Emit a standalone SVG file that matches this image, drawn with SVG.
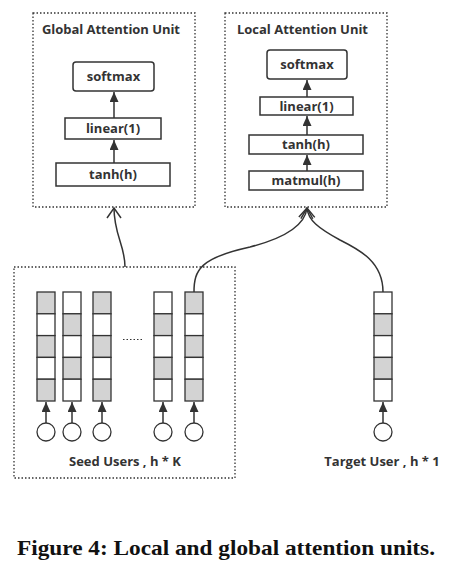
<svg xmlns="http://www.w3.org/2000/svg" width="453" height="570" viewBox="0 0 453 570">
<style>
.frame{fill:none;stroke:#333;stroke-width:1.3;stroke-dasharray:1.5,2}
.box{fill:#fff;stroke:#333;stroke-width:1.5}
.lbl{font-family:"Open Sans","DejaVu Sans",sans-serif;font-weight:bold;font-size:13px;fill:#333;text-anchor:middle}
.title{font-family:"Open Sans","DejaVu Sans",sans-serif;font-weight:bold;font-size:13px;fill:#333}
.g{fill:#d3d3d3;stroke:#333;stroke-width:1.3}
.w{fill:#fff;stroke:#333;stroke-width:1.3}
.arr{fill:none;stroke:#333;stroke-width:1.5;marker-end:url(#fa)}
.con{fill:none;stroke:#333;stroke-width:1.5;marker-end:url(#oa)}
.cir{fill:#fff;stroke:#333;stroke-width:1.3}
</style>
<defs>
<marker id="fa" markerUnits="userSpaceOnUse" markerWidth="11" markerHeight="9" refX="10" refY="4.5" orient="auto"><path d="M0,0 L10,4.5 L0,9 z" fill="#333"/></marker>
<marker id="oa" markerUnits="userSpaceOnUse" markerWidth="12" markerHeight="16" refX="10" refY="8" orient="auto" overflow="visible"><path d="M0,1 L10,8 L0,15" fill="none" stroke="#333" stroke-width="1.5"/></marker>
</defs>
<rect width="453" height="570" fill="#fff"/>

<g id="global-unit">
<rect class="frame" x="33" y="13" width="162" height="194"/>
<text class="title" x="42" y="34" textLength="138">Global Attention Unit</text>
<rect class="box" x="73" y="62" width="81" height="29" rx="3"/>
<text class="lbl" x="113.5" y="81">softmax</text>
<rect class="box" x="65" y="118" width="96" height="21"/>
<text class="lbl" x="113" y="133">linear(1)</text>
<rect class="box" x="56" y="163" width="114" height="23"/>
<text class="lbl" x="113" y="179">tanh(h)</text>
<path class="arr" d="M114,163 V140"/>
<path class="arr" d="M114,118 V92"/>
</g>

<g id="local-unit">
<rect class="frame" x="225" y="13" width="162" height="194"/>
<text class="title" x="237" y="34" textLength="131">Local Attention Unit</text>
<rect class="box" x="267" y="50" width="80" height="29" rx="3"/>
<text class="lbl" x="307" y="69">softmax</text>
<rect class="box" x="260" y="97" width="93" height="18"/>
<text class="lbl" x="306.5" y="110.5">linear(1)</text>
<rect class="box" x="249" y="135" width="114" height="19"/>
<text class="lbl" x="306" y="149">tanh(h)</text>
<rect class="box" x="249" y="171" width="114" height="19"/>
<text class="lbl" x="306" y="185">matmul(h)</text>
<path class="arr" d="M307,171 V155"/>
<path class="arr" d="M307,135 V116"/>
<path class="arr" d="M307,97 V80"/>
</g>

<g id="seed-users">
<rect class="frame" x="14" y="267" width="221" height="211"/>
<g id="col1">
<rect class="g" x="37" y="292" width="18" height="21.8"/><rect class="w" x="37" y="313.8" width="18" height="21.8"/><rect class="g" x="37" y="335.6" width="18" height="21.8"/><rect class="w" x="37" y="357.4" width="18" height="21.8"/><rect class="g" x="37" y="379.2" width="18" height="21.8"/>
</g>
<g id="col2">
<rect class="w" x="63" y="292" width="18" height="21.8"/><rect class="g" x="63" y="313.8" width="18" height="21.8"/><rect class="w" x="63" y="335.6" width="18" height="21.8"/><rect class="g" x="63" y="357.4" width="18" height="21.8"/><rect class="w" x="63" y="379.2" width="18" height="21.8"/>
</g>
<g id="col3">
<rect class="g" x="93" y="292" width="18" height="21.8"/><rect class="w" x="93" y="313.8" width="18" height="21.8"/><rect class="g" x="93" y="335.6" width="18" height="21.8"/><rect class="w" x="93" y="357.4" width="18" height="21.8"/><rect class="g" x="93" y="379.2" width="18" height="21.8"/>
</g>
<g id="col4">
<rect class="w" x="154" y="292" width="18" height="21.8"/><rect class="g" x="154" y="313.8" width="18" height="21.8"/><rect class="w" x="154" y="335.6" width="18" height="21.8"/><rect class="g" x="154" y="357.4" width="18" height="21.8"/><rect class="w" x="154" y="379.2" width="18" height="21.8"/>
</g>
<g id="col5">
<rect class="g" x="185" y="292" width="18" height="21.8"/><rect class="w" x="185" y="313.8" width="18" height="21.8"/><rect class="g" x="185" y="335.6" width="18" height="21.8"/><rect class="w" x="185" y="357.4" width="18" height="21.8"/><rect class="g" x="185" y="379.2" width="18" height="21.8"/>
</g>
<path d="M123,339.5 H143" stroke="#333" stroke-width="1.2" stroke-dasharray="1.5,2"/>
<circle class="cir" cx="46" cy="432" r="9"/>
<circle class="cir" cx="72" cy="432" r="9"/>
<circle class="cir" cx="102" cy="432" r="9"/>
<circle class="cir" cx="163" cy="432" r="9"/>
<circle class="cir" cx="194" cy="432" r="9"/>
<path class="arr" d="M46,423 V402"/>
<path class="arr" d="M72,423 V402"/>
<path class="arr" d="M102,423 V402"/>
<path class="arr" d="M163,423 V402"/>
<path class="arr" d="M194,423 V402"/>
<text class="lbl" x="125" y="466">Seed Users , h * K</text>
</g>

<g id="target-user">
<rect class="w" x="374" y="292" width="18" height="21.8"/><rect class="g" x="374" y="313.8" width="18" height="21.8"/><rect class="w" x="374" y="335.6" width="18" height="21.8"/><rect class="g" x="374" y="357.4" width="18" height="21.8"/><rect class="w" x="374" y="379.2" width="18" height="21.8"/>
<circle class="cir" cx="383" cy="432" r="9"/>
<path class="arr" d="M383,423 V402"/>
<text class="lbl" x="382" y="466">Target User , h * 1</text>
</g>

<g id="connectors">
<path class="con" d="M125,267 C125,245 114,235 114,208"/>
<path class="con" d="M194,292 C194,270 200,258 250,247 C285,238 305,225 307,208"/>
<path class="con" d="M383,292 C383,262 360,250 340,240 C318,228 308,220 307,208"/>
</g>

<text x="17" y="555" font-family="'Liberation Serif',serif" font-weight="bold" font-size="22" fill="#111" textLength="418" lengthAdjust="spacingAndGlyphs">Figure 4: Local and global attention units.</text>
</svg>
